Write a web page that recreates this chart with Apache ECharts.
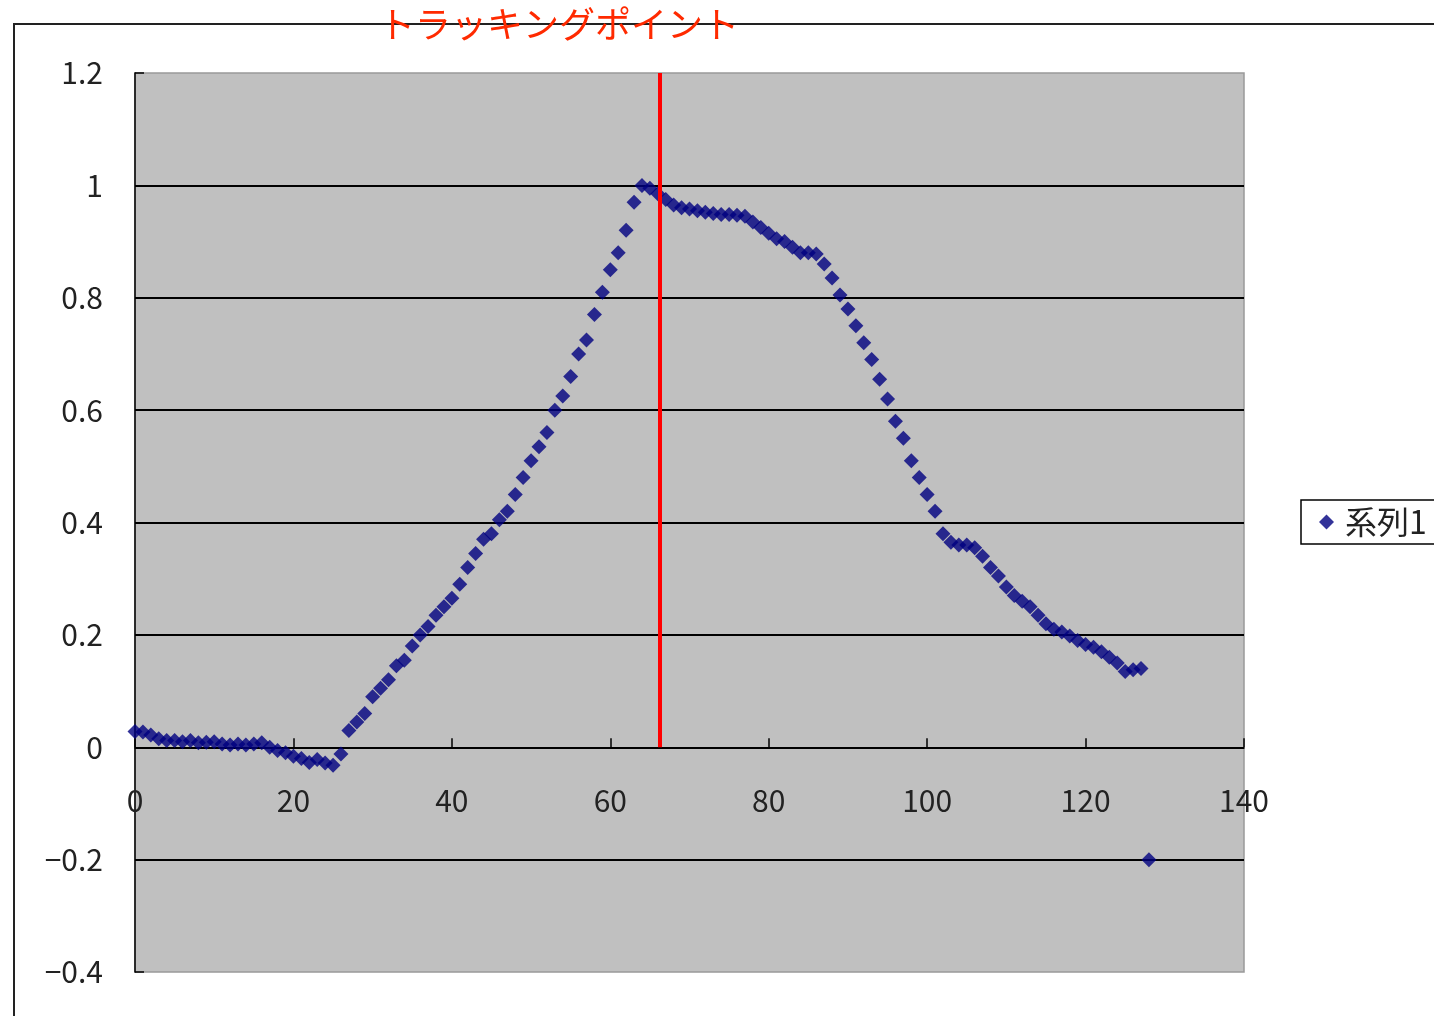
<!DOCTYPE html>
<html>
<head>
<meta charset="utf-8">
<script src="https://cdn.jsdelivr.net/npm/echarts@6/dist/echarts.min.js"></script>
<style>
  html, body { margin: 0; padding: 0; background: #fff; }
  #chart { width: 1434px; height: 1016px; }
</style>
</head>
<body>
<div id="chart"></div>
<script>
// 系列1: one reading per x step 0..127, then a stray point at 128
let xValues = [];
for (let i = 0; i <= 127; i++) xValues.push(i);
let yValues = [
  0.028, 0.027, 0.022, 0.015, 0.012, 0.012, 0.010, 0.012, 0.008, 0.009,
  0.010, 0.006, 0.004, 0.006, 0.004, 0.006, 0.008, 0.000, -0.006, -0.010,
  -0.016, -0.020, -0.027, -0.022, -0.028, -0.032, -0.012, 0.030, 0.045, 0.060,
  0.090, 0.105, 0.120, 0.145, 0.155, 0.180, 0.200, 0.215, 0.235, 0.250,
  0.265, 0.290, 0.320, 0.345, 0.370, 0.380, 0.405, 0.420, 0.450, 0.480,
  0.510, 0.535, 0.560, 0.600, 0.625, 0.660, 0.700, 0.725, 0.770, 0.810,
  0.850, 0.880, 0.920, 0.970, 1.000, 0.995, 0.985, 0.975, 0.965, 0.960,
  0.958, 0.955, 0.952, 0.950, 0.948, 0.948, 0.947, 0.945, 0.935, 0.925,
  0.915, 0.905, 0.900, 0.890, 0.880, 0.880, 0.878, 0.860, 0.835, 0.805,
  0.780, 0.750, 0.720, 0.690, 0.655, 0.620, 0.580, 0.550, 0.510, 0.480,
  0.450, 0.420, 0.380, 0.365, 0.360, 0.360, 0.355, 0.340, 0.320, 0.305,
  0.285, 0.270, 0.260, 0.250, 0.235, 0.220, 0.210, 0.205, 0.198, 0.190,
  0.183, 0.178, 0.170, 0.160, 0.150, 0.135, 0.138, 0.140
];
let strayPoint = [128, -0.2];
let trackingX = 66.2;
let trackingRange = [0, 1.2];

let titleText = 'トラッキングポイント';
let seriesName = '系列1';

let points = xValues.map(function (x, i) { return [x, yValues[i]]; });
points.push(strayPoint);

let FONT = '"Noto Sans CJK JP", "DejaVu Sans", sans-serif';

// grid box in px, x axis drawn where y = 0
let GRID_TOP = 73, GRID_BOTTOM = 44, CHART_H = 1016;
let Y_MIN = -0.4, Y_MAX = 1.2;
let gridHeight = CHART_H - GRID_TOP - GRID_BOTTOM;
let xAxisOffset = -gridHeight * (0 - Y_MIN) / (Y_MAX - Y_MIN);

let chart = echarts.init(document.getElementById('chart'));
let option = {
  backgroundColor: '#fff',
  animation: false,
  title: {
    text: titleText,
    left: 374,
    top: 1,
    z: 10,
    textStyle: { color: '#FF2A00', fontSize: 36, fontWeight: 'normal', fontFamily: FONT }
  },
  graphic: [{
    type: 'polyline',
    z: 0,
    shape: { points: [[14, 1016], [14, 24], [1434, 24]] },
    style: { stroke: '#222', lineWidth: 2, fill: null }
  }],
  legend: {
    data: [seriesName],
    left: 1301,
    top: 500,
    orient: 'vertical',
    padding: [6, 40, 6, 18],
    itemWidth: 15,
    itemHeight: 15,
    itemGap: 6,
    borderColor: '#000',
    borderWidth: 1.5,
    textStyle: { fontSize: 32, color: '#222', fontFamily: FONT, padding: [0, 0, 0, 6] }
  },
  grid: {
    left: 135,
    top: GRID_TOP,
    right: 190,
    bottom: GRID_BOTTOM,
    outerBoundsMode: 'none',
    containLabel: false,
    show: true,
    backgroundColor: '#C0C0C0',
    borderColor: '#999',
    borderWidth: 1.5
  },
  xAxis: {
    type: 'value',
    min: 0,
    max: 140,
    interval: 20,
    offset: xAxisOffset,
    axisLine: { onZero: false, lineStyle: { color: '#000', width: 1.5 } },
    axisTick: { inside: true, length: 9, lineStyle: { color: '#000', width: 1.5 } },
    axisLabel: { margin: 38, fontSize: 30, color: '#222', fontFamily: FONT },
    splitLine: { show: false }
  },
  yAxis: {
    type: 'value',
    min: Y_MIN,
    max: Y_MAX,
    interval: 0.2,
    axisLine: { show: true, onZero: false, lineStyle: { color: '#000', width: 1.5 } },
    axisTick: { show: true, inside: true, length: 9, lineStyle: { color: '#000', width: 1.5 } },
    axisLabel: {
      margin: 32, fontSize: 30, color: '#222', fontFamily: FONT,
      formatter: function (v) {
        let s = String(Math.round(v * 10) / 10);
        return s.replace('-', '−');
      }
    },
    splitLine: {
      show: true,
      lineStyle: {
        color: ['rgba(0,0,0,0)', '#000', '#000', '#000', '#000', '#000', '#000', '#000', 'rgba(0,0,0,0)'],
        width: 2
      }
    }
  },
  series: [{
    name: seriesName,
    type: 'scatter',
    symbol: 'diamond',
    symbolSize: 15,
    itemStyle: { color: '#000080' },
    data: points,
    markLine: {
      silent: true,
      symbol: 'none',
      label: { show: false },
      lineStyle: { color: '#FF0000', width: 4, type: 'solid' },
      data: [[{ coord: [trackingX, trackingRange[0]] }, { coord: [trackingX, trackingRange[1]] }]]
    }
  }]
};
chart.setOption(option);
</script>
</body>
</html>
